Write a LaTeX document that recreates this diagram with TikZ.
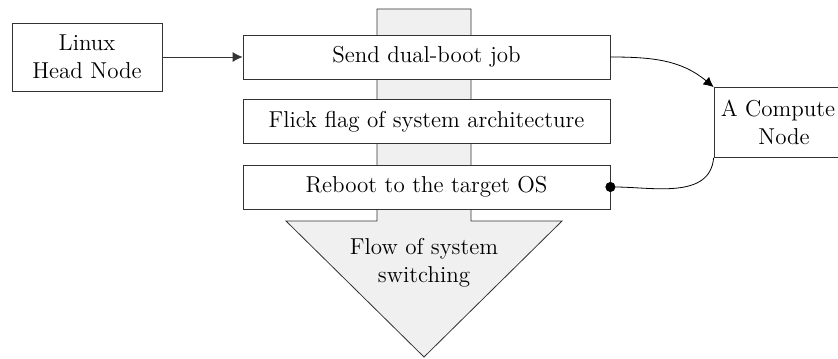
\documentclass[tikz,border=0pt]{standalone}
\usetikzlibrary{arrows.meta}
\begin{document}
\begin{tikzpicture}[x=0.5pt, y=-0.5pt, font=\fontsize{11.5}{14}\selectfont,
  box/.style={draw=black!80, fill=white, align=center, inner sep=0pt},
  stepbox/.style={box, minimum width=183.5pt, minimum height=22pt},
  flow/.style={draw=black!80, fill=black!6}]
\useasboundingbox (0,0) rectangle (838,358);
% big arrow behind the steps
\draw[flow] (377,9) -- (471,9) -- (471,221) -- (562,221) -- (424,357) -- (286,221) -- (377,221) -- cycle;
\node[align=center] (flowtxt) at (424,263) {Flow of system\\switching};
\node[box, minimum width=75pt, minimum height=34pt] (head) at (87,57) {Linux\\Head Node};
\node[stepbox] (send) at (426.5,57) {Send dual-boot job};
\node[stepbox] (flick) at (426.5,121.5) {Flick flag of system architecture};
\node[stepbox] (reboot) at (426.5,187) {Reboot to the target OS};
\node[box, minimum width=64pt, minimum height=35pt] (comp) at (778,122.5) {A Compute\\\hspace*{6pt}Node};
\draw[draw=black!80, -{Latex[length=5pt, width=5pt]}] (head) -- (send);
\draw[-{Latex[length=5pt, width=5pt]}] (send.east) to[out=0, in=140] (comp.north west);
\draw[-{Circle[length=5pt]}, shorten >=-2.5pt] (comp.south west) to[out=-95, in=0] (reboot.east);
\end{tikzpicture}
\end{document}
